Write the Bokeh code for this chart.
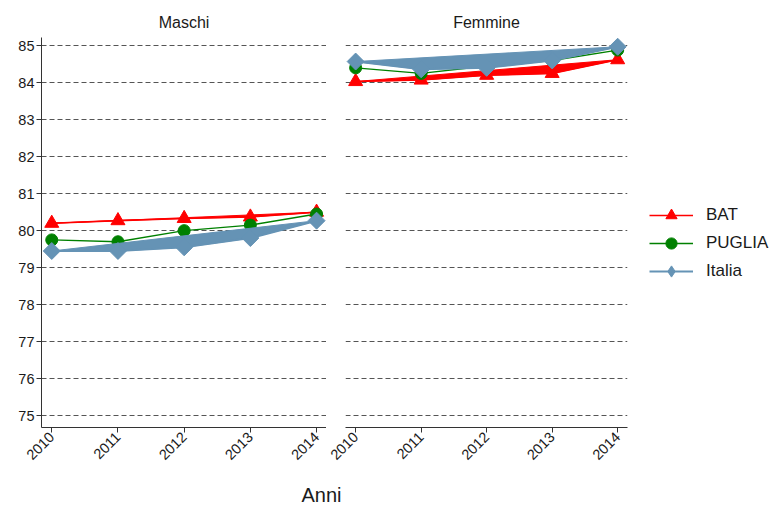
from math import pi
from bokeh.plotting import figure
from bokeh.models import FixedTicker, Legend, LegendItem, Range1d
from bokeh.layouts import row, column
from bokeh.embed import file_html
from bokeh.resources import INLINE
from bokeh.core.properties import value

years = [2010, 2011, 2012, 2013, 2014]
panel_titles = ["Maschi", "Femmine"]
series_names = ["BAT", "PUGLIA", "Italia"]

bat_maschi = [80.2, 80.27, 80.33, 80.37, 80.5]
puglia_maschi = [79.75, 79.7, 80.0, 80.15, 80.45]
italia_maschi = [79.45, 79.45, 79.55, 79.8, 80.27]

bat_femmine = [84.03, 84.07, 84.2, 84.25, 84.62]
puglia_femmine = [84.4, 84.25, 84.45, 84.6, 84.88]
italia_femmine = [84.57, 84.36, 84.4, 84.6, 84.97]

y_ticks = [75, 76, 77, 78, 79, 80, 81, 82, 83, 84, 85]
x_label = "Anni"

RED = "#ff0000"
GREEN = "#008000"
BLUE = "#6593b5"
FONT = "Liberation Sans"
AXIS_COL = "#333333"


def make_fig(title, left, right, fw, show_y):
    p = figure(frame_width=fw, frame_height=390,
               min_border_left=left, min_border_right=right,
               min_border_top=37, min_border_bottom=45,
               x_range=Range1d(2009.845, 2014.15),
               y_range=Range1d(74.68, 85.22),
               output_backend="svg", toolbar_location=None, title=title)
    p.title.align = "center"
    p.title.text_font = FONT
    p.title.text_font_size = "16px"
    p.title.text_font_style = "normal"
    p.title.text_color = "#1a1a1a"
    p.title.standoff = 14
    p.outline_line_color = None
    p.background_fill_color = "white"
    p.border_fill_color = "white"
    p.xgrid.visible = False
    p.ygrid.ticker = FixedTicker(ticks=y_ticks)
    p.ygrid.grid_line_color = "#555555"
    p.ygrid.grid_line_dash = "5 3"
    p.ygrid.grid_line_width = 1.2
    p.xaxis.ticker = FixedTicker(ticks=years)
    p.xaxis.major_label_orientation = pi / 4
    p.yaxis.ticker = FixedTicker(ticks=y_ticks)
    for ax in (p.xaxis, p.yaxis):
        ax.axis_line_color = AXIS_COL
        ax.major_tick_line_color = AXIS_COL
        ax.major_tick_out = 5
        ax.major_tick_in = 0
        ax.minor_tick_line_color = None
        ax.major_label_text_font = FONT
        ax.major_label_text_font_size = "14.5px"
        ax.major_label_text_color = "#1a1a1a"
        ax.major_label_standoff = 2
    if not show_y:
        p.yaxis.visible = False
    return p


def draw(p, bat, puglia, italia):
    p.patch(years, bat, fill_color=RED, line_color=RED, line_width=1)
    lb = p.line(years, bat, line_color=RED, line_width=1.6)
    mb = p.scatter(years, bat, marker="triangle", size=14, fill_color=RED, line_color=RED)
    lp = p.line(years, puglia, line_color=GREEN, line_width=1.4)
    mp = p.scatter(years, puglia, marker="circle", size=12, fill_color=GREEN, line_color=GREEN)
    p.patch(years, italia, fill_color=BLUE, line_color=BLUE, line_width=1)
    li = p.line(years, italia, line_color=BLUE, line_width=2)
    # diamond used for the legend; it lies fully inside the rotated squares drawn on top
    mi = p.scatter(years, italia, marker="diamond", size=15, fill_color=BLUE, line_color=BLUE)
    p.scatter(years, italia, marker="square", angle=pi / 4, size=12,
              fill_color=BLUE, line_color=BLUE)
    return [(lb, mb), (lp, mp), (li, mi)]


p1 = make_fig(panel_titles[0], 41, 0, 285, True)
draw(p1, bat_maschi, puglia_maschi, italia_maschi)

p2 = make_fig(panel_titles[1], 19, 150, 282, False)
rends = draw(p2, bat_femmine, puglia_femmine, italia_femmine)

items = [LegendItem(label=n, renderers=list(r)) for n, r in zip(series_names, rends)]
legend = Legend(items=items, location=(22, 142))
legend.label_text_font = FONT
legend.label_text_font_size = "17px"
legend.label_text_color = "#1a1a1a"
legend.glyph_width = 44
legend.glyph_height = 28
legend.label_height = 24
legend.spacing = 0
legend.label_standoff = 13
legend.padding = 6
legend.margin = 0
legend.border_line_color = None
legend.background_fill_alpha = 0
p2.add_layout(legend, "right")

p3 = figure(width=770, height=34, x_range=Range1d(0, 770), y_range=Range1d(0, 34),
            min_border=0, output_backend="svg", toolbar_location=None)
p3.axis.visible = False
p3.grid.visible = False
p3.outline_line_color = None
p3.text(x=[321], y=[12], text=[x_label], text_align="center", text_baseline="middle",
        text_font=value(FONT), text_font_size="20px", text_color="#1a1a1a")

layout = column(row(p1, p2), p3)
open("out.html", "w").write(file_html(layout, INLINE))
